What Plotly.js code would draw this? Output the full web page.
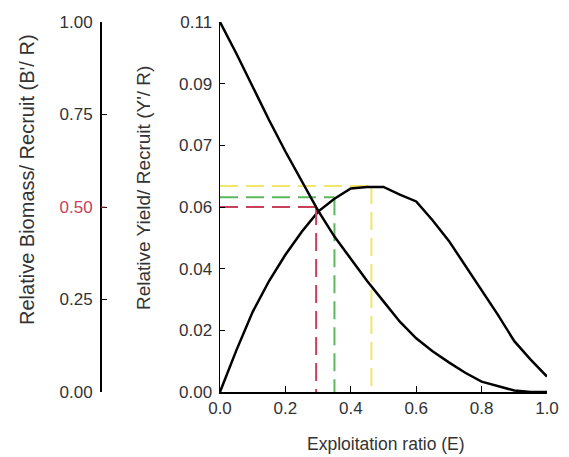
<!DOCTYPE html>
<html>
<head>
<meta charset="utf-8">
<script src="https://cdn.plot.ly/plotly-3.0.1.min.js"></script>
<style>html,body{margin:0;padding:0;background:#fff;}#chart{width:569px;height:457px;}</style>
</head>
<body>
<div id="chart"></div>
<script>
// Exploitation ratio values
var exploitation = [0, 0.05, 0.1, 0.15, 0.2, 0.25, 0.3, 0.35, 0.4, 0.45, 0.5, 0.55, 0.6, 0.65, 0.7, 0.75, 0.8, 0.85, 0.9, 0.95, 1.0];
// Relative biomass per recruit (left axis, 0-1)
var biomassPerRecruit = [1.0, 0.915, 0.825, 0.735, 0.65, 0.57, 0.49, 0.42, 0.36, 0.30, 0.245, 0.19, 0.145, 0.11, 0.08, 0.052, 0.028, 0.015, 0.004, 0.0, 0.0];
// Relative yield per recruit (right axis)
var yieldPerRecruit = [0, 0.0135, 0.026, 0.036, 0.0445, 0.052, 0.0585, 0.0627, 0.066, 0.0665, 0.0665, 0.064, 0.0618, 0.0557, 0.049, 0.041, 0.033, 0.025, 0.0165, 0.0105, 0.005];

// Reference points
var e50 = 0.294, b50 = 0.5;          // red
var e10 = 0.35, y10 = 0.0632;        // green
var eMax = 0.463, yMax = 0.0668;     // yellow

// Yield axis ticks
var yieldTickVals = [0, 0.02, 0.04, 0.06, 0.08, 0.10, 0.12];
var yieldTickText = ["0.00", "0.02", "0.04", "0.06", "0.07", "0.09", "0.11"];
var biomassTickVals = [0, 0.25, 0.5, 0.75, 1.0];
var biomassTickText = ["0.00", "0.25", "<span style='color:#c8405a'>0.50</span>", "0.75", "1.00"];
var xTickVals = [0, 0.2, 0.4, 0.6, 0.8, 1.0];
var xTickText = ["0.0", "0.2", "0.4", "0.6", "0.8", "1.0"];

var W = 569, H = 457, ML = 90, MR = 22, MT = 22, MB = 65;
var pw = W - ML - MR;
var xDomStart = (220 - ML) / pw;
var leftAxisPos = (100 - ML) / pw;

var RED = '#c8405a', GREEN = '#5cb85c', YELLOW = '#efe66a';
var dash = '18px,8px';

var traces = [
  {x: [0, e50], y: [b50, b50], xaxis: 'x', yaxis: 'y2', mode: 'lines', line: {color: RED, width: 2, dash: dash}},
  {x: [e50, e50], y: [b50, 0], xaxis: 'x', yaxis: 'y2', mode: 'lines', line: {color: RED, width: 2, dash: dash}},
  {x: [0, e10], y: [y10, y10], mode: 'lines', line: {color: GREEN, width: 2, dash: dash}},
  {x: [e10, e10], y: [y10, 0], mode: 'lines', line: {color: GREEN, width: 2, dash: dash}},
  {x: [0, eMax], y: [yMax, yMax], mode: 'lines', line: {color: YELLOW, width: 2, dash: dash}},
  {x: [eMax, eMax], y: [yMax, 0], mode: 'lines', line: {color: YELLOW, width: 2, dash: dash}},
  {x: exploitation, y: biomassPerRecruit, xaxis: 'x', yaxis: 'y2', mode: 'lines', line: {color: '#000', width: 2.5}},
  {x: exploitation, y: yieldPerRecruit, mode: 'lines', line: {color: '#000', width: 2.5}}
];

var tickFont = {family: 'Liberation Sans, Arial, sans-serif', size: 17, color: '#333'};
var titleFont = {family: 'Liberation Sans, Arial, sans-serif', size: 17.5, color: '#333'};

var layout = {
  width: W, height: H,
  margin: {l: ML, r: MR, t: MT, b: MB, pad: 0},
  paper_bgcolor: '#fff', plot_bgcolor: 'rgba(0,0,0,0)',
  showlegend: false,
  xaxis: {
    domain: [xDomStart, 1], range: [0, 1], tickvals: xTickVals, ticktext: xTickText,
    showgrid: false, zeroline: false, showline: true, linecolor: '#000', linewidth: 1.5,
    ticks: 'inside', ticklen: 6, tickcolor: '#000', tickwidth: 1, tickfont: tickFont, anchor: 'y'
  },
  yaxis: {
    range: [0, 0.12], tickvals: yieldTickVals, ticktext: yieldTickText,
    showgrid: false, zeroline: false, showline: true, linecolor: '#000', linewidth: 1.5,
    ticks: 'inside', ticklen: 5, tickcolor: '#000', tickwidth: 1, tickfont: tickFont, anchor: 'x',
    ticklabelstandoff: 3
  },
  yaxis2: {
    range: [0, 1], tickvals: biomassTickVals, ticktext: biomassTickText, overlaying: 'y',
    anchor: 'free', position: leftAxisPos, side: 'left',
    showgrid: false, zeroline: false, showline: true, linecolor: '#000', linewidth: 1.5,
    ticks: 'inside', ticklen: 5, tickcolor: '#000', tickwidth: 1, tickfont: tickFont,
    ticklabelstandoff: 4
  },
  shapes: [
    {type: 'line', xref: 'paper', yref: 'y2', x0: leftAxisPos + 0.8 / pw, x1: leftAxisPos + 5 / pw, y0: 0.5, y1: 0.5, line: {color: RED, width: 1}}
  ],
  annotations: [
    {text: 'Exploitation ratio (E)', xref: 'paper', yref: 'paper', x: (386 - ML) / pw, y: -(444 - (H - MB)) / (H - MT - MB), showarrow: false, font: titleFont, xanchor: 'center', yanchor: 'middle'},
    {text: "Relative Biomass/ Recruit (B'/ R)", xref: 'paper', yref: 'paper', x: (27 - ML) / pw, y: ((H - MB) - 180) / (H - MT - MB), showarrow: false, textangle: -90, font: {family: titleFont.family, size: 20, color: '#333'}, xanchor: 'center', yanchor: 'middle'},
    {text: "Relative Yield/ Recruit (Y'/ R)", xref: 'paper', yref: 'paper', x: (143 - ML) / pw, y: ((H - MB) - 188) / (H - MT - MB), showarrow: false, textangle: -90, font: {family: titleFont.family, size: 19, color: '#333'}, xanchor: 'center', yanchor: 'middle'}
  ]
};

Plotly.newPlot('chart', traces, layout, {displayModeBar: false, staticPlot: true});
</script>
</body>
</html>
